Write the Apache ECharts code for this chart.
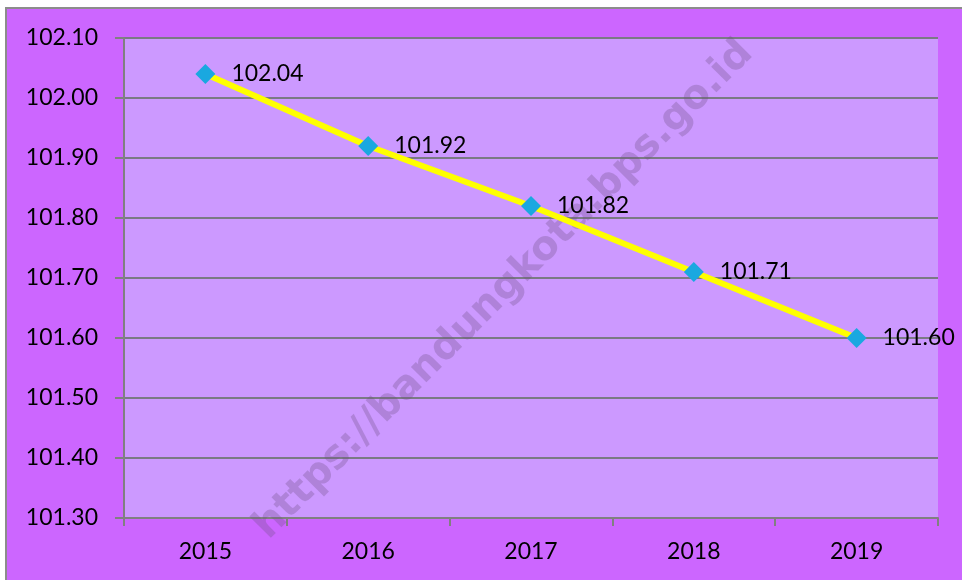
<!DOCTYPE html>
<html>
<head>
<meta charset="utf-8">
<script src="https://cdn.jsdelivr.net/npm/echarts@6/dist/echarts.min.js"></script>
<style>
  html, body { margin: 0; padding: 0; background: #ffffff; }
  #main { width: 962px; height: 580px; }
</style>
</head>
<body>
<div id="main"></div>
<script>
// data
const years = ["2015", "2016", "2017", "2018", "2019"];
const values = [102.04, 101.92, 101.82, 101.71, 101.60];
const yMin = 101.3;
const yMax = 102.1;
const yStep = 0.1;

const font = "Lato, 'Open Sans', sans-serif";
const chart = echarts.init(document.getElementById("main"), null, { renderer: "canvas" });

const option = {
  animation: false,
  backgroundColor: "transparent",
  graphic: [
    {
      type: "rect",
      z: -10,
      shape: { x: 6, y: 8, width: 1000, height: 620 },
      style: { fill: "#cc66ff", stroke: "#8c8c8c", lineWidth: 2 }
    },
    {
      type: "text",
      z: 1,
      x: 504,
      y: 290,
      rotation: Math.PI / 4,
      style: {
        text: "https://bandungkota.bps.go.id",
        font: "bold 40px 'DejaVu Sans', Verdana, sans-serif",
        fill: "rgba(110, 80, 130, 0.3)",
        align: "center",
        verticalAlign: "middle"
      }
    }
  ],
  grid: {
    left: 124,
    top: 38,
    width: 814,
    height: 480,
    show: true,
    backgroundColor: "#cc99ff",
    borderWidth: 0
  },
  xAxis: {
    type: "category",
    data: years,
    boundaryGap: true,
    axisLine: { show: true, lineStyle: { color: "#808080", width: 2 } },
    axisTick: { show: true, alignWithLabel: false, length: 8, lineStyle: { color: "#808080", width: 2 } },
    axisLabel: { color: "#000", fontFamily: font, fontSize: 23, margin: 22 },
    splitLine: { show: false }
  },
  yAxis: {
    type: "value",
    min: yMin,
    max: yMax,
    interval: yStep,
    axisLine: { show: true, lineStyle: { color: "#808080", width: 2 } },
    axisTick: { show: true, length: 9, lineStyle: { color: "#808080", width: 2 } },
    axisLabel: {
      color: "#000",
      fontFamily: font,
      fontSize: 23,
      margin: 26,
      formatter: v => v.toFixed(2)
    },
    splitLine: { show: true, lineStyle: { color: "#7a7a84", width: 2 } }
  },
  series: [
    {
      type: "line",
      data: values,
      symbol: "diamond",
      symbolSize: 20,
      lineStyle: { color: "#ffff00", width: 6 },
      itemStyle: { color: "#1aa8e0" },
      label: {
        show: true,
        position: "right",
        distance: 16,
        color: "#000",
        fontFamily: font,
        fontSize: 23,
        formatter: p => p.value.toFixed(2)
      },
      z: 5
    }
  ]
};

chart.setOption(option);
</script>
</body>
</html>
